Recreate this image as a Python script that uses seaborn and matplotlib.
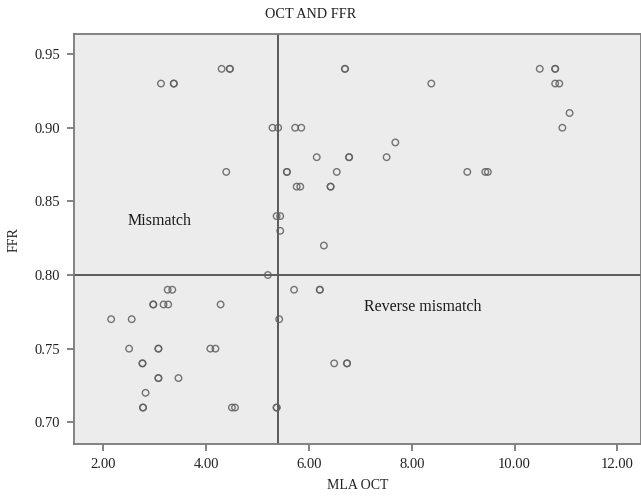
"""
OCT and FFR scatter: MLA by OCT vs FFR with cutoff lines
"""

import matplotlib
matplotlib.use("Agg")
import matplotlib.pyplot as plt
import seaborn as sns
import pandas as pd


# bold looking points in the source are stacked duplicates, so they appear twice
mla_oct = [
    4.30, 4.46, 4.46, 6.70, 6.70, 10.49, 10.79, 10.79,
    3.12, 3.37, 3.37, 8.38, 10.79, 10.87,
    11.07,
    5.29, 5.40, 5.73, 5.85, 10.93,
    7.68,
    6.15, 6.78, 6.78, 7.51,
    4.39, 5.57, 5.57, 6.54, 9.08, 9.43, 9.48,
    5.76, 5.83, 6.42, 6.42,
    5.37, 5.44,
    5.44,
    6.29,
    5.20,
    3.25, 3.34, 5.71, 6.21, 6.21,
    2.97, 2.97, 3.17, 3.26, 4.28,
    2.15, 2.55, 5.42,
    2.50, 3.07, 3.07, 4.08, 4.18,
    2.76, 2.76, 6.49, 6.74, 6.74,
    3.07, 3.07, 3.46,
    2.82,
    2.77, 2.77, 4.50, 4.56, 5.37, 5.37,
]
ffr = [
    0.94, 0.94, 0.94, 0.94, 0.94, 0.94, 0.94, 0.94,
    0.93, 0.93, 0.93, 0.93, 0.93, 0.93,
    0.91,
    0.90, 0.90, 0.90, 0.90, 0.90,
    0.89,
    0.88, 0.88, 0.88, 0.88,
    0.87, 0.87, 0.87, 0.87, 0.87, 0.87, 0.87,
    0.86, 0.86, 0.86, 0.86,
    0.84, 0.84,
    0.83,
    0.82,
    0.80,
    0.79, 0.79, 0.79, 0.79, 0.79,
    0.78, 0.78, 0.78, 0.78, 0.78,
    0.77, 0.77, 0.77,
    0.75, 0.75, 0.75, 0.75, 0.75,
    0.74, 0.74, 0.74, 0.74, 0.74,
    0.73, 0.73, 0.73,
    0.72,
    0.71, 0.71, 0.71, 0.71, 0.71, 0.71,
]

mla_cutoff = 5.39
ffr_cutoff = 0.80
x_ticks = [2, 4, 6, 8, 10, 12]
y_ticks = [0.70, 0.75, 0.80, 0.85, 0.90, 0.95]

df = pd.DataFrame({"MLA OCT": mla_oct, "FFR": ffr})

sns.set_style("ticks")
plt.rcParams["font.family"] = ["Liberation Serif", "DejaVu Serif"]

fig = plt.figure(figsize=(6.41, 4.96), dpi=100)
ax = fig.add_axes([0.115, 0.105, 0.885, 0.826])
ax.set_facecolor("#ececec")

sns.scatterplot(
    data=df, x="MLA OCT", y="FFR", ax=ax,
    marker="o", s=22, fc="none", ec="#5e5e5e", linewidth=1.0, alpha=0.85,
    legend=False, zorder=3
)

ax.axvline(mla_cutoff, color="#5a5a5a", lw=1.4, zorder=2)
ax.axhline(ffr_cutoff, color="#5a5a5a", lw=1.4, zorder=2)

ax.text(3.10, 0.8366, "Mismatch", fontsize=11.5, ha="center", va="center", color="#1a1a1a")
ax.text(8.22, 0.778, "Reverse mismatch", fontsize=11.5, ha="center", va="center", color="#1a1a1a")

ax.set_xlim(1.422, 12.46)
ax.set_ylim(0.6853, 0.9635)
ax.set_xticks(x_ticks)
ax.set_xticklabels([f"{v:.2f}" for v in x_ticks])
ax.set_yticks(y_ticks)
ax.set_yticklabels([f"{v:.2f}" for v in y_ticks])
ax.tick_params(axis="both", direction="out", length=5, width=1.2, color="#6e6e6e",
               labelsize=10.5, labelcolor="#222222", pad=5)

for side in ["left", "bottom", "top", "right"]:
    ax.spines[side].set_color("#7a7a7a")
    ax.spines[side].set_linewidth(1.3)

ax.set_xlabel("MLA OCT", fontsize=10, color="#222222", labelpad=6)
ax.set_ylabel("FFR", fontsize=10, color="#222222", labelpad=10)
fig.text(311 / 641, 1 - 14 / 496, "OCT AND FFR", fontsize=10.3, ha="center", va="center", color="#222222")

plt.savefig("out.png", dpi=100)
plt.close()
